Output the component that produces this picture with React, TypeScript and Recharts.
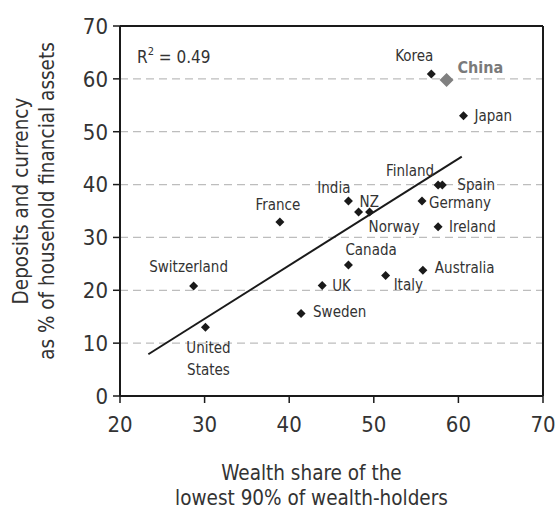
import { ScatterChart, Scatter, XAxis, YAxis, CartesianGrid, ReferenceLine, Label, Customized } from 'recharts';

const countries = [
  'Korea', 'Japan', 'Finland', 'Spain', 'India', 'NZ', 'Germany', 'France', 'Norway',
  'Ireland', 'Canada', 'Switzerland', 'Australia', 'UK', 'Italy', 'Sweden', 'United States',
];
const wealthShare = [56.8, 60.6, 57.6, 58.1, 47.0, 48.2, 55.7, 38.9, 49.5, 57.6, 47.0, 28.7, 55.8, 43.9, 51.4, 41.4, 30.1];
const deposits = [60.9, 53.0, 39.9, 39.9, 36.9, 34.8, 36.9, 32.9, 34.8, 32.0, 24.8, 20.8, 23.8, 20.9, 22.8, 15.6, 13.0];

const highlightName = 'China';
const highlightX = [58.6];
const highlightY = [59.8];

const trendX = [23.35, 60.4];
const trendY = [7.9, 45.3];

const xTicks = [20, 30, 40, 50, 60, 70];
const yTicks = [0, 10, 20, 30, 40, 50, 60, 70];

const FONT = '"Liberation Sans Narrow", "DejaVu Sans Condensed", "Open Sans", sans-serif';
const INK = '#333';
const AXIS = '#1a1a1a';

const points = countries.map((name, i) => ({ name, x: wealthShare[i], y: deposits[i] }));
const highlight = highlightX.map((x, i) => ({ name: highlightName, x, y: highlightY[i] }));

// label placement relative to marker: [anchor, dx, dy(baseline)]
const labelPos: Record<string, [string, number, number]> = {
  Korea: ['end', 2, -13],
  China: ['start', 11, -7],
  Japan: ['start', 11, 5],
  Finland: ['end', -4, -9],
  Spain: ['start', 15, 5],
  India: ['end', 2, -8],
  NZ: ['start', 1, -5],
  Germany: ['start', 7, 7],
  France: ['middle', -2, -12],
  Norway: ['start', -1, 20],
  Ireland: ['start', 11, 5],
  Canada: ['start', -3, -10],
  Switzerland: ['middle', -5, -14],
  Australia: ['start', 12, 3],
  UK: ['start', 10, 5],
  Italy: ['start', 8, 15],
  Sweden: ['start', 12, 3],
  'United States': ['middle', 3, 26],
};

const Diamond = (r: number, fill: string, bold: boolean) => (props: any) => {
  const { cx, cy, payload } = props;
  if (cx == null || cy == null) return null;
  const [anchor, dx, dy] = labelPos[payload.name] || ['start', 8, 4];
  const words = payload.name === 'United States' ? ['United', 'States'] : [payload.name];
  return (
    <g>
      <polygon points={`${cx},${cy - r} ${cx + r},${cy} ${cx},${cy + r} ${cx - r},${cy}`} fill={fill} />
      <text
        x={cx + dx}
        y={cy + dy}
        textAnchor={anchor as any}
        fontFamily={FONT}
        fontSize={bold ? 16 : 15}
        fontWeight={bold ? 700 : 400}
        fill={bold ? '#7a7a7a' : INK}
      >
        {words.map((w, i) => (
          <tspan key={w} x={cx + dx} dy={i === 0 ? 0 : 22}>
            {w}
          </tspan>
        ))}
      </text>
    </g>
  );
};

const XTitle = (props: any) => {
  const { x, y, width } = props.viewBox;
  const cx = x + width / 2 - 20;
  return (
    <text textAnchor="middle" fontFamily={FONT} fontSize={20.5} fill={INK}>
      <tspan x={cx} y={y + 84}>Wealth share of the</tspan>
      <tspan x={cx} y={y + 109}>lowest 90% of wealth-holders</tspan>
    </text>
  );
};

const YTitle = (props: any) => {
  const { y, height } = props.viewBox;
  const cy = y + height / 2 - 10;
  return (
    <g transform={`translate(0, ${cy}) rotate(-90)`}>
      <text textAnchor="middle" dominantBaseline="central" fontFamily={FONT} fontSize={20.5} fill={INK}>
        <tspan x={0} y={21}>Deposits and currency</tspan>
        <tspan x={0} y={47}>as % of household financial assets</tspan>
      </text>
    </g>
  );
};

const RSquared = () => (
  <text x={137} y={63} fontFamily={FONT} fontSize={17} fill={INK}>
    R
    <tspan fontSize={11} dy={-8}>2</tspan>
    <tspan dy={8}> = 0.49</tspan>
  </text>
);

export default function App() {
  return (
    <div style={{ position: 'absolute', left: 0, top: 0, background: '#fff' }}>
      <ScatterChart width={555} height={509} margin={{ top: 26, right: 12, bottom: 0, left: 0 }}>
        <CartesianGrid horizontal vertical={false} stroke="#bdbdbd" strokeDasharray="8 5" strokeWidth={1.2} />
        <XAxis
          type="number"
          dataKey="x"
          domain={[20, 70]}
          ticks={xTicks}
          height={113}
          tickSize={7}
          tickMargin={13}
          axisLine={{ stroke: AXIS, strokeWidth: 2 }}
          tickLine={{ stroke: AXIS, strokeWidth: 1.5 }}
          tick={{ fontFamily: FONT, fontSize: 22, fill: INK }}
          allowDataOverflow
        >
          <Label content={XTitle} />
        </XAxis>
        <YAxis
          type="number"
          dataKey="y"
          domain={[0, 70]}
          ticks={yTicks}
          width={120}
          tickSize={7}
          tickMargin={5}
          axisLine={{ stroke: AXIS, strokeWidth: 2 }}
          tickLine={{ stroke: AXIS, strokeWidth: 1.5 }}
          tick={{ fontFamily: FONT, fontSize: 22, fill: INK }}
          allowDataOverflow
        >
          <Label content={YTitle} />
        </YAxis>
        <ReferenceLine y={70} stroke={AXIS} strokeWidth={2} />
        <ReferenceLine x={70} stroke={AXIS} strokeWidth={2} />
        <ReferenceLine
          segment={[
            { x: trendX[0], y: trendY[0] },
            { x: trendX[1], y: trendY[1] },
          ]}
          stroke={AXIS}
          strokeWidth={2}
        />
        <Scatter data={points} shape={Diamond(4.5, '#1a1a1a', false)} isAnimationActive={false} />
        <Scatter data={highlight} shape={Diamond(7, '#808080', true)} isAnimationActive={false} />
        <Customized component={RSquared} />
      </ScatterChart>
    </div>
  );
}
